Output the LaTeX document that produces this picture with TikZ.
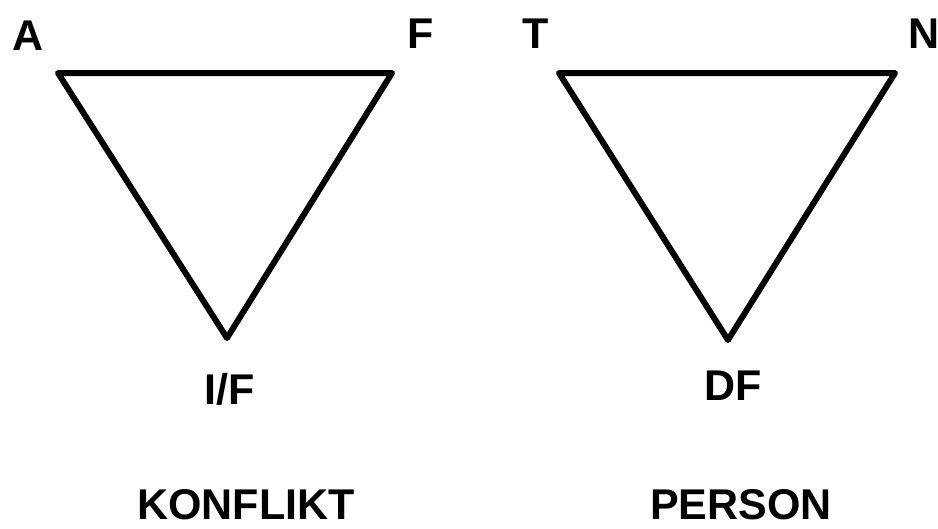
\documentclass[tikz,border=0pt]{standalone}
\usepackage{fontspec}
\setmainfont{Liberation Sans}
\usetikzlibrary{positioning}

\begin{document}
\begin{tikzpicture}[
  x=1pt, y=-1pt,
  tri/.style={draw=black, line width=6pt, line join=round},
  lbl/.style={font=\fontsize{43}{43}\selectfont\bfseries, anchor=base,
              inner sep=0pt},
]
  \useasboundingbox (0,0) rectangle (938,528);

  % left triangle
  \coordinate (ka) at (58,73);
  \coordinate (kf) at (392,73);
  \coordinate (kif) at (227,338);
  \draw[tri] (ka) -- (kf) -- (kif) -- cycle;

  % right triangle
  \coordinate (pt) at (559,73);
  \coordinate (pn) at (895,73);
  \coordinate (pdf) at (728,340);
  \draw[tri] (pt) -- (pn) -- (pdf) -- cycle;

  \node[lbl] (la) at (28,50) {A};
  \node[lbl] (lf) at (421,48) {F};
  \node[lbl] (lt) at (536,48) {T};
  \node[lbl] (ln) at (924,48) {N};
  \node[lbl] (lif) at (230,404) {I/F};
  \node[lbl] (ldf) at (733,400) {DF};

  \node[lbl] (konflikt) at (246,519) {KONFLIKT};
  \node[lbl] (person) at (741,519) {PERSON};
\end{tikzpicture}
\end{document}
